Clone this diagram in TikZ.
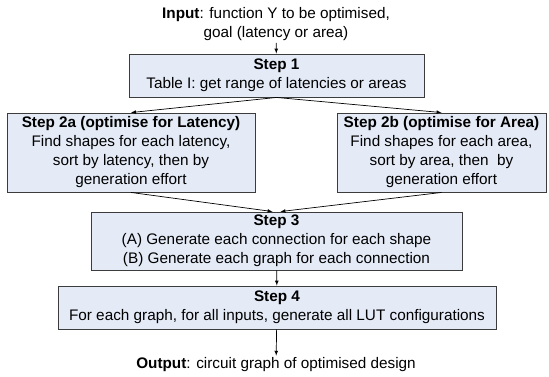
\documentclass[tikz,border=0pt]{standalone}
\usepackage{fontspec}
\setmainfont{Liberation Sans}
\usepackage{xcolor}
\usepackage{tikz}
\usetikzlibrary{calc}
\definecolor{boxfill}{RGB}{228,235,247}
\definecolor{boxline}{RGB}{60,60,60}

\begin{document}
\begin{tikzpicture}[
    x=1pt, y=-1pt,
    font=\fontsize{15.3}{19}\selectfont,
    stepbox/.style={rectangle, draw=boxline, line width=0.9pt, fill=boxfill, align=center, inner sep=0pt},
    ionode/.style={align=center, inner sep=2pt},
    arrow/.style={->, >=latex, line width=0.7pt, color=black}
]
\useasboundingbox (0,0) rectangle (549,376);

% Define input, steps and output
\node [ionode] (input) at (276,24) {\textbf{Input}: function Y to be optimised,\\ goal (latency or area)};
\node [stepbox, minimum width=295pt, minimum height=43pt] (step1) at (276.5,75.5) {\textbf{Step 1}\\ Table I: get range of latencies or areas};
\node [stepbox, minimum width=248pt, minimum height=79pt] (step2a) at (131,152.5) {\textbf{Step 2a (optimise for Latency)}\\ Find shapes for each latency,\\ sort by latency, then by\\ generation effort};
\node [stepbox, minimum width=209pt, minimum height=79pt] (step2b) at (441.5,152.5) {\textbf{Step 2b (optimise for Area)}\\ Find shapes for each area,\\ sort by area, then~ by\\ generation effort};
\node [stepbox, minimum width=371pt, minimum height=58pt] (step3) at (276.5,241) {\textbf{Step 3}\\ (A) Generate each connection for each shape\\ (B) Generate each graph for each connection};
\node [stepbox, minimum width=438pt, minimum height=43pt] (step4) at (277,307.5) {\textbf{Step 4}\\ For each graph, for all inputs, generate all LUT configurations};
\node [ionode] (output) at (276,365) {\textbf{Output}: circuit graph of optimised design};

% Draw arrows between steps
\draw [arrow] (input) -- (step1);
\draw [arrow] (step1.south) -- (step2a.north);
\draw [arrow] (step1.south) -- (step2b.north);
\draw [arrow] (step2a.south) -- ($(step3.north)+(-4,0)$);
\draw [arrow] (step2b.south) -- ($(step3.north)+(4,0)$);
\draw [arrow] (step3) -- (step4);
\draw [arrow] (step4) -- (output);

\end{tikzpicture}
\end{document}
